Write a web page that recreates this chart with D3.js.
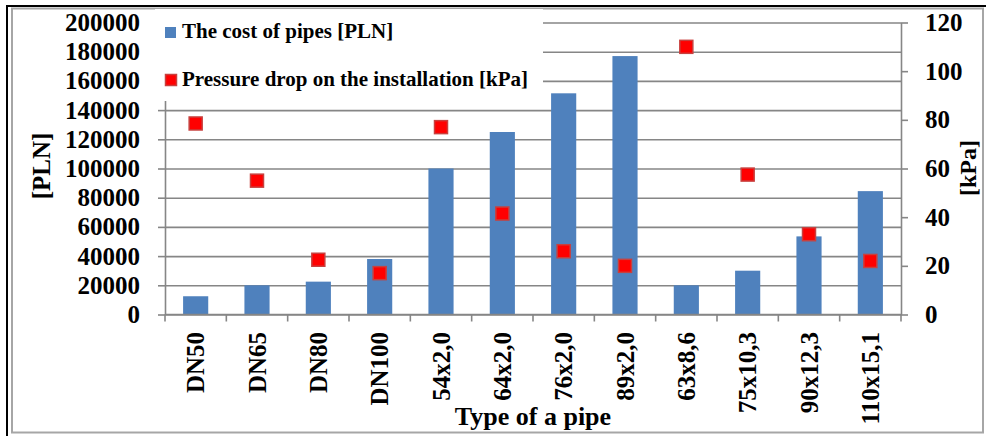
<!DOCTYPE html>
<html>
<head>
<meta charset="utf-8">
<script src="https://cdn.jsdelivr.net/npm/d3@7"></script>
<style>
  html, body { margin: 0; padding: 0; background: #fff; }
  svg { display: block; }
  text { font-family: "Liberation Serif", "Times New Roman", serif; font-weight: bold; fill: #000; }
</style>
</head>
<body>
<svg id="chart" width="987" height="436"></svg>
<script>
// ---- data ----
const categories = ["DN50", "DN65", "DN80", "DN100", "54x2,0", "64x2,0", "76x2,0", "89x2,0", "63x8,6", "75x10,3", "90x12,3", "110x15,1"];
const costPLN = [12500, 20000, 22500, 38000, 100000, 125000, 151500, 177000, 20000, 30000, 53500, 84500];
const pressureKPa = [78.5, 55, 22.5, 17, 77, 41.5, 26, 20, 110, 57.5, 33, 22];
const leftTicks = [0, 20000, 40000, 60000, 80000, 100000, 120000, 140000, 160000, 180000, 200000];
const rightTicks = [0, 20, 40, 60, 80, 100, 120];
const legendLabels = ["The cost of pipes [PLN]", "Pressure drop on the installation [kPa]"];
const leftTitle = "[PLN]";
const rightTitle = "[kPa]";
const xTitle = "Type of a pipe";

// ---- layout ----
const svg = d3.select("#chart");
const plot = { left: 165, right: 901, top: 22.5, bottom: 314.5 };
const gridColor = "#868686";

// frame
svg.append("rect").attr("x", 12).attr("y", 8.5).attr("width", 971).attr("height", 424)
  .attr("fill", "#fff").attr("stroke", "#a6a6a6").attr("stroke-width", 2);
svg.append("line").attr("x1", 6).attr("x2", 986).attr("y1", 6).attr("y2", 6)
  .attr("stroke", "#000").attr("stroke-width", 2);
svg.append("line").attr("x1", 7).attr("x2", 7).attr("y1", 5).attr("y2", 436)
  .attr("stroke", "#000").attr("stroke-width", 2);

// scales
const x = d3.scaleBand().domain(categories).range([plot.left, plot.right])
  .paddingInner(0.59).paddingOuter(0.295);
const yL = d3.scaleLinear().domain([0, 200000]).range([plot.bottom, plot.top]);
const yR = d3.scaleLinear().domain([0, 120]).range([plot.bottom, plot.top]);

// gridlines
const grid = svg.append("g").attr("transform", `translate(${plot.left},0)`)
  .call(d3.axisLeft(yL).tickValues(leftTicks).tickSize(-(plot.right - plot.left)).tickFormat(""));
grid.select(".domain").remove();
grid.selectAll("line").attr("stroke", gridColor).attr("stroke-width", 1.6);

// bars
svg.append("g").selectAll("rect").data(categories).join("rect")
  .attr("x", d => x(d))
  .attr("width", x.bandwidth())
  .attr("y", (d, i) => yL(costPLN[i]))
  .attr("height", (d, i) => yL(0) - yL(costPLN[i]))
  .attr("fill", "#4f81bd");

// left axis
const axL = svg.append("g").attr("transform", `translate(${plot.left},0)`)
  .call(d3.axisLeft(yL).tickValues(leftTicks).tickSizeInner(7).tickSizeOuter(0).tickPadding(18).tickFormat(d3.format("d")));
axL.select(".domain").attr("stroke", gridColor).attr("stroke-width", 1.6);
axL.selectAll("line").attr("stroke", gridColor).attr("stroke-width", 1.6);
axL.selectAll("text").style("font-size", "25px").attr("font-family", null);

// right axis
const axR = svg.append("g").attr("transform", `translate(${plot.right},0)`)
  .call(d3.axisRight(yR).tickValues(rightTicks).tickSizeInner(7).tickSizeOuter(0).tickPadding(17));
axR.select(".domain").attr("stroke", gridColor).attr("stroke-width", 1.6);
axR.selectAll("line").attr("stroke", gridColor).attr("stroke-width", 1.6);
axR.selectAll("text").style("font-size", "25px").attr("font-family", null);

// bottom axis line + boundary ticks
svg.append("line").attr("x1", plot.left).attr("x2", plot.right)
  .attr("y1", plot.bottom).attr("y2", plot.bottom)
  .attr("stroke", gridColor).attr("stroke-width", 1.6);
const boundaries = d3.range(categories.length + 1).map(i => x.range()[0] + i * x.step());
svg.append("g").selectAll("line").data(boundaries).join("line")
  .attr("x1", d => d).attr("x2", d => d)
  .attr("y1", plot.bottom).attr("y2", plot.bottom + 7)
  .attr("stroke", gridColor).attr("stroke-width", 1.6);

// category labels
svg.append("g").selectAll("text").data(categories).join("text")
  .attr("transform", d => `translate(${x(d) + x.bandwidth() / 2},332) rotate(-90)`)
  .attr("text-anchor", "end").attr("dy", "0.35em")
  .style("font-size", "25px")
  .text(d => d);

// markers
const ms = 13;
svg.append("g").selectAll("rect").data(categories).join("rect")
  .attr("x", d => x(d) + x.bandwidth() / 2 - ms / 2)
  .attr("y", (d, i) => yR(pressureKPa[i]) - ms / 2)
  .attr("width", ms).attr("height", ms)
  .attr("fill", "#ff0000").attr("stroke", "#c8403e").attr("stroke-width", 1.5);

// axis titles
svg.append("text").attr("transform", "translate(50,166) rotate(-90)")
  .attr("text-anchor", "middle").style("font-size", "25px").text(leftTitle);
svg.append("text").attr("transform", "translate(976,168) rotate(-90)")
  .attr("text-anchor", "middle").style("font-size", "24px").text(rightTitle);
svg.append("text").attr("x", (plot.left + plot.right) / 2).attr("y", 425)
  .attr("text-anchor", "middle").style("font-size", "26px").text(xTitle);

// legend
const lg = svg.append("g");
lg.append("rect").attr("x", 155).attr("y", 9).attr("width", 388).attr("height", 92).attr("fill", "#fff");
lg.append("rect").attr("x", 165).attr("y", 27).attr("width", 11).attr("height", 11).attr("fill", "#4f81bd");
lg.append("rect").attr("x", 165.5).attr("y", 74.5).attr("width", 11).attr("height", 11)
  .attr("fill", "#ff0000").attr("stroke", "#c8403e").attr("stroke-width", 1.5);
lg.append("text").attr("x", 182).attr("y", 38).style("font-size", "21px").text(legendLabels[0]);
lg.append("text").attr("x", 182).attr("y", 86).style("font-size", "21px").text(legendLabels[1]);
</script>
</body>
</html>
